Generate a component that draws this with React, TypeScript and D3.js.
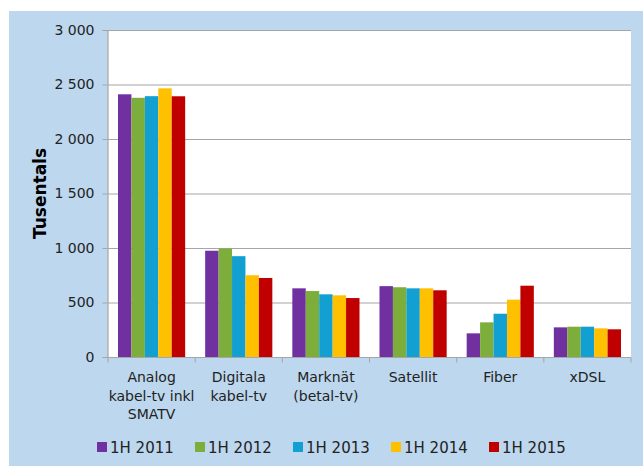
import React, { useEffect, useRef } from 'react';
import * as d3 from 'd3';

const categories: string[][] = [
  ['Analog', 'kabel-tv inkl', 'SMATV'],
  ['Digitala', 'kabel-tv'],
  ['Marknät', '(betal-tv)'],
  ['Satellit'],
  ['Fiber'],
  ['xDSL'],
];

const seriesNames = ['1H 2011', '1H 2012', '1H 2013', '1H 2014', '1H 2015'];
const seriesColors = ['#7030A0', '#7DAD3B', '#12A0D2', '#FFC000', '#C00000'];

const v2011 = [2410, 975, 630, 650, 217, 272];
const v2012 = [2378, 995, 605, 640, 318, 278];
const v2013 = [2393, 925, 575, 630, 397, 278];
const v2014 = [2465, 750, 566, 630, 526, 263];
const v2015 = [2392, 725, 541, 612, 654, 254];
const seriesValues = [v2011, v2012, v2013, v2014, v2015];

const yTicks = [0, 500, 1000, 1500, 2000, 2500, 3000];

const W = 643;
const H = 466;

const BroadbandTvChart: React.FC = () => {
  const svgRef = useRef<SVGSVGElement | null>(null);

  useEffect(() => {
    const svg = d3.select(svgRef.current);
    svg.selectAll('*').remove();

    const font = 'Verdana, "DejaVu Sans", sans-serif';
    const plot = { left: 108, right: 631, top: 30, bottom: 357 };

    // background
    svg
      .append('rect')
      .attr('x', 9)
      .attr('y', 11)
      .attr('width', W - 9)
      .attr('height', H - 11)
      .attr('fill', '#BDD7EE');

    svg
      .append('rect')
      .attr('x', plot.left)
      .attr('y', plot.top)
      .attr('width', plot.right - plot.left)
      .attr('height', plot.bottom - plot.top)
      .attr('fill', '#fff');

    const x0 = d3
      .scaleBand<number>()
      .domain(d3.range(categories.length))
      .range([plot.left, plot.right])
      .paddingInner(0)
      .paddingOuter(0);

    const x1 = d3
      .scaleBand<number>()
      .domain(d3.range(seriesNames.length))
      .range([10, x0.bandwidth() - 10])
      .padding(0);

    const y = d3.scaleLinear().domain([0, 3000]).range([plot.bottom, plot.top]);

    const fmt = (d: number) => d3.format(',')(d).replace(/,/g, ' ');

    // gridlines
    svg
      .append('g')
      .selectAll('line')
      .data(yTicks.filter(t => t > 0))
      .join('line')
      .attr('x1', plot.left)
      .attr('x2', plot.right)
      .attr('y1', d => y(d) + 0.5)
      .attr('y2', d => y(d) + 0.5)
      .attr('stroke', '#A6A6A6')
      .attr('stroke-width', 1.2);

    // bars
    categories.forEach((_, ci) => {
      const g = svg.append('g').attr('transform', `translate(${x0(ci)},0)`);
      seriesValues.forEach((vals, si) => {
        g.append('rect')
          .attr('x', x1(si) as number)
          .attr('y', y(vals[ci]))
          .attr('width', x1.bandwidth())
          .attr('height', y(0) - y(vals[ci]))
          .attr('fill', seriesColors[si]);
      });
    });

    // Y axis
    const yAxis = svg
      .append('g')
      .attr('transform', `translate(${plot.left - 0.5},0)`)
      .call(
        d3
          .axisLeft(y)
          .tickValues(yTicks)
          .tickSize(5)
          .tickPadding(8)
          .tickFormat(d => fmt(d as number))
      );
    yAxis.select('.domain').attr('stroke', '#A6A6A6').attr('stroke-width', 1.2);
    yAxis.selectAll('.tick line').attr('stroke', '#A6A6A6');
    yAxis
      .selectAll('.tick text')
      .attr('fill', '#222')
      .style('font-family', font)
      .style('font-size', '14px');

    // X axis
    const xAxis = svg
      .append('g')
      .attr('transform', `translate(0,${plot.bottom + 0.5})`);
    xAxis
      .append('line')
      .attr('x1', plot.left - 5)
      .attr('x2', plot.right)
      .attr('stroke', '#A6A6A6')
      .attr('stroke-width', 1.2);
    xAxis
      .selectAll('line.tk')
      .data(d3.range(categories.length + 1))
      .join('line')
      .attr('class', 'tk')
      .attr('x1', d => plot.left + d * x0.bandwidth())
      .attr('x2', d => plot.left + d * x0.bandwidth())
      .attr('y1', 0)
      .attr('y2', 5)
      .attr('stroke', '#A6A6A6');

    categories.forEach((lines, ci) => {
      const t = svg
        .append('text')
        .attr('x', (x0(ci) as number) + x0.bandwidth() / 2)
        .attr('y', 382)
        .attr('text-anchor', 'middle')
        .attr('fill', '#222')
        .style('font-family', font)
        .style('font-size', '14px');
      lines.forEach((ln, li) => {
        t.append('tspan')
          .attr('x', (x0(ci) as number) + x0.bandwidth() / 2)
          .attr('dy', li === 0 ? 0 : 18.5)
          .text(ln);
      });
    });

    // axis title
    svg
      .append('text')
      .attr('transform', 'translate(46,193.5) rotate(-90)')
      .attr('text-anchor', 'middle')
      .attr('fill', '#000')
      .style('font-family', font)
      .style('font-size', '17px')
      .style('font-weight', 'bold')
      .text('Tusentals');

    // legend
    const legend = svg.append('g').attr('transform', 'translate(97,447)');
    seriesNames.forEach((name, i) => {
      const item = legend.append('g').attr('transform', `translate(${i * 98},0)`);
      item
        .append('rect')
        .attr('x', 0)
        .attr('y', -5)
        .attr('width', 10)
        .attr('height', 10)
        .attr('fill', seriesColors[i]);
      item
        .append('text')
        .attr('x', 13)
        .attr('y', 5.5)
        .attr('fill', '#222')
        .style('font-family', font)
        .style('font-size', '15px')
        .text(name);
    });
  }, []);

  return (
    <div style={{ position: 'absolute', left: 0, top: 0 }}>
      <svg ref={svgRef} width={W} height={H} style={{ display: 'block' }} />
    </div>
  );
};

export default function App() {
  return <BroadbandTvChart />;
}
